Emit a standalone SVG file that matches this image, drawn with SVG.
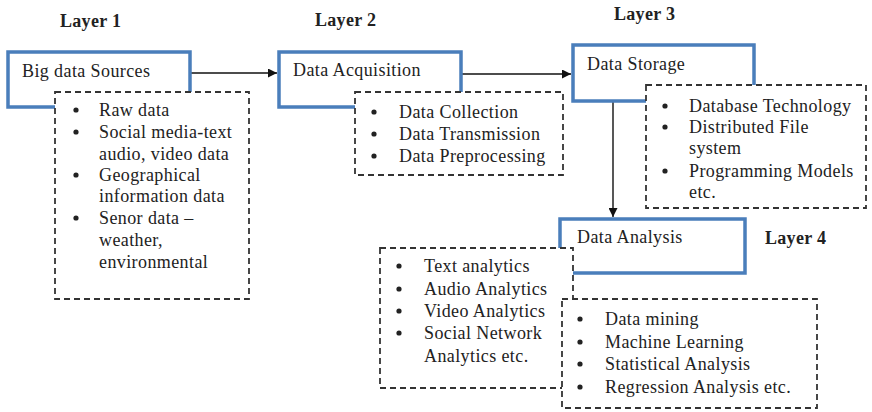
<svg xmlns="http://www.w3.org/2000/svg" width="872" height="412" viewBox="0 0 872 412">
<style>
.bg{fill:#fff}
.blue{fill:#fff;stroke:#4a7ebb;stroke-width:3.5}
.dash{fill:#fff;stroke:#333;stroke-width:1.8;stroke-dasharray:6 4}
.t{font-family:"Liberation Serif","Times New Roman",serif;font-size:18px;letter-spacing:0.4px;fill:#222}
.lay{font-family:"Liberation Serif","Times New Roman",serif;font-size:18px;font-weight:bold;letter-spacing:0.3px;fill:#222}
.b{fill:#222}
.con{stroke:#111;stroke-width:1.4;fill:none}
</style>
<defs>
<marker id="ah" viewBox="0 0 10 10" refX="10" refY="5" markerWidth="9" markerHeight="9" markerUnits="userSpaceOnUse" orient="auto">
<path d="M0,0 L10,5 L0,10 z" fill="#111"/>
</marker>
</defs>
<rect class="bg" x="0" y="0" width="872" height="412"/>

<g id="labels">
<text class="lay" x="60" y="27">Layer 1</text>
<text class="lay" x="315" y="26">Layer 2</text>
<text class="lay" x="614" y="20">Layer 3</text>
<text class="lay" x="765" y="244">Layer 4</text>
</g>

<g id="connectors">
<line class="con" x1="190" y1="73" x2="277" y2="73" marker-end="url(#ah)"/>
<line class="con" x1="461" y1="74" x2="571" y2="74" marker-end="url(#ah)"/>
<line class="con" x1="613" y1="101" x2="613" y2="217" marker-end="url(#ah)"/>
</g>

<g id="node-sources">
<rect class="blue" x="8" y="52" width="182" height="55"/>
<text class="t" x="22" y="77">Big data Sources</text>
</g>
<g id="list-sources">
<rect class="dash" x="55" y="92" width="194" height="207"/>
<circle class="b" cx="76" cy="110" r="2.6"/>
<circle class="b" cx="76" cy="132" r="2.6"/>
<circle class="b" cx="76" cy="175" r="2.6"/>
<circle class="b" cx="76" cy="218" r="2.6"/>
<text class="t" x="99" y="116">Raw data</text>
<text class="t" x="99" y="138">Social media-text</text>
<text class="t" x="99" y="160">audio, video data</text>
<text class="t" x="99" y="181">Geographical</text>
<text class="t" x="99" y="202">information data</text>
<text class="t" x="99" y="224">Senor data –</text>
<text class="t" x="99" y="246">weather,</text>
<text class="t" x="99" y="268">environmental</text>
</g>

<g id="node-acquisition">
<rect class="blue" x="279" y="52" width="182" height="55"/>
<text class="t" x="293" y="76">Data Acquisition</text>
</g>
<g id="list-acquisition">
<rect class="dash" x="355" y="92" width="208" height="83"/>
<circle class="b" cx="374" cy="112" r="2.6"/>
<circle class="b" cx="374" cy="134" r="2.6"/>
<circle class="b" cx="374" cy="156" r="2.6"/>
<text class="t" x="399" y="118">Data Collection</text>
<text class="t" x="399" y="140">Data Transmission</text>
<text class="t" x="399" y="162">Data Preprocessing</text>
</g>

<g id="node-storage">
<rect class="blue" x="573" y="45" width="181" height="56"/>
<text class="t" x="587" y="70">Data Storage</text>
</g>
<g id="list-storage">
<rect class="dash" x="646" y="85" width="220" height="123"/>
<circle class="b" cx="665" cy="106" r="2.6"/>
<circle class="b" cx="665" cy="127" r="2.6"/>
<circle class="b" cx="665" cy="171" r="2.6"/>
<text class="t" x="689" y="112">Database Technology</text>
<text class="t" x="689" y="133">Distributed File</text>
<text class="t" x="689" y="154">system</text>
<text class="t" x="689" y="177">Programming Models</text>
<text class="t" x="689" y="198">etc.</text>
</g>

<g id="node-analysis">
<rect class="blue" x="560" y="219" width="185" height="54"/>
<text class="t" x="577" y="243">Data Analysis</text>
</g>
<g id="list-analysis-types">
<rect class="dash" x="380" y="248" width="193" height="140"/>
<circle class="b" cx="399" cy="266" r="2.6"/>
<circle class="b" cx="399" cy="289" r="2.6"/>
<circle class="b" cx="399" cy="311" r="2.6"/>
<circle class="b" cx="399" cy="333" r="2.6"/>
<text class="t" x="424" y="272">Text analytics</text>
<text class="t" x="424" y="295">Audio Analytics</text>
<text class="t" x="424" y="317">Video Analytics</text>
<text class="t" x="424" y="339">Social Network</text>
<text class="t" x="424" y="362">Analytics etc.</text>
</g>
<g id="list-analysis-methods">
<rect class="dash" x="562" y="299" width="255" height="109"/>
<circle class="b" cx="580" cy="319" r="2.6"/>
<circle class="b" cx="580" cy="342" r="2.6"/>
<circle class="b" cx="580" cy="364" r="2.6"/>
<circle class="b" cx="580" cy="387" r="2.6"/>
<text class="t" x="605" y="325">Data mining</text>
<text class="t" x="605" y="348">Machine Learning</text>
<text class="t" x="605" y="370">Statistical Analysis</text>
<text class="t" x="605" y="393">Regression Analysis etc.</text>
</g>
</svg>
